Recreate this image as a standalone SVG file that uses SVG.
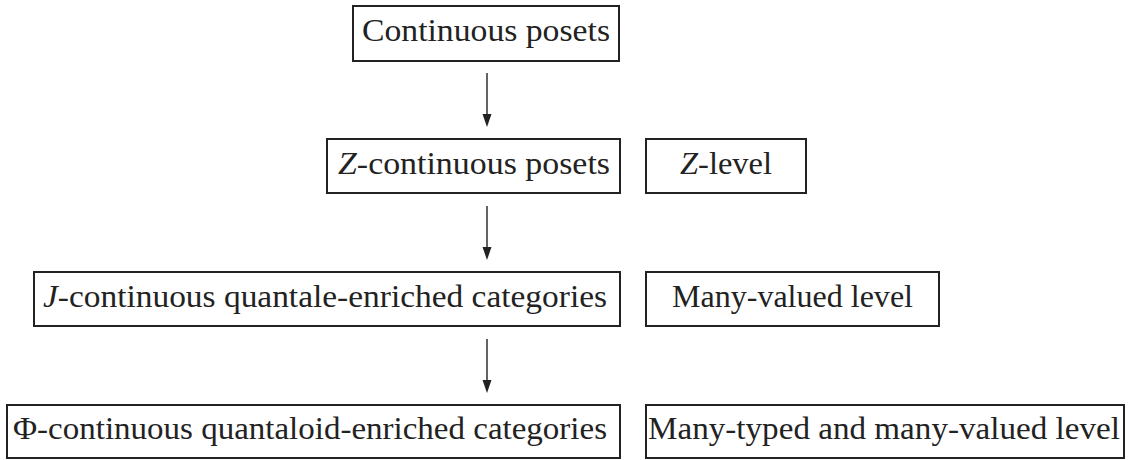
<svg xmlns="http://www.w3.org/2000/svg" width="1130" height="460" viewBox="0 0 1130 460">
<style>
.box{fill:#fff;stroke:#222;stroke-width:2}
.t{font-family:"Liberation Serif","Times New Roman",serif;font-size:31px;fill:#222}
.i{font-style:italic}
.edge{stroke:#222;stroke-width:1.4;fill:none}
.head{fill:#222;stroke:none}
</style>
<rect width="1130" height="460" fill="#fff"/>
<g id="n1"><rect class="box" x="353" y="6" width="266" height="55"/><text class="t" x="362" y="41" textLength="248" lengthAdjust="spacingAndGlyphs">Continuous posets</text></g>
<g id="n2"><rect class="box" x="327" y="139" width="293" height="54"/><text class="t" x="338" y="174" textLength="272" lengthAdjust="spacingAndGlyphs"><tspan class="i">Z</tspan>-continuous posets</text></g>
<g id="n3"><rect class="box" x="34" y="272" width="586" height="54"/><text class="t" x="43" y="307" textLength="564" lengthAdjust="spacingAndGlyphs"><tspan class="i">J</tspan>-continuous quantale-enriched categories</text></g>
<g id="n4"><rect class="box" x="7" y="405" width="613" height="53"/><text class="t" x="13" y="439" textLength="594" lengthAdjust="spacingAndGlyphs">Φ-continuous quantaloid-enriched categories</text></g>
<g id="l1"><rect class="box" x="646" y="139" width="160" height="54"/><text class="t" x="680" y="174" textLength="92" lengthAdjust="spacingAndGlyphs"><tspan class="i">Z</tspan>-level</text></g>
<g id="l2"><rect class="box" x="646" y="272" width="293" height="54"/><text class="t" x="672" y="307" textLength="241" lengthAdjust="spacingAndGlyphs">Many-valued level</text></g>
<g id="l3"><rect class="box" x="646" y="405" width="478" height="53"/><text class="t" x="648" y="439" textLength="472" lengthAdjust="spacingAndGlyphs">Many-typed and many-valued level</text></g>
<g id="connectors">
<line class="edge" x1="487" y1="73" x2="487" y2="118"/>
<path class="head" d="M482.5,114 L491.5,114 L487,127 Z"/>
<line class="edge" x1="487" y1="206" x2="487" y2="251"/>
<path class="head" d="M482.5,247 L491.5,247 L487,260 Z"/>
<line class="edge" x1="487" y1="339" x2="487" y2="384"/>
<path class="head" d="M482.5,380 L491.5,380 L487,393 Z"/>
</g>
</svg>
